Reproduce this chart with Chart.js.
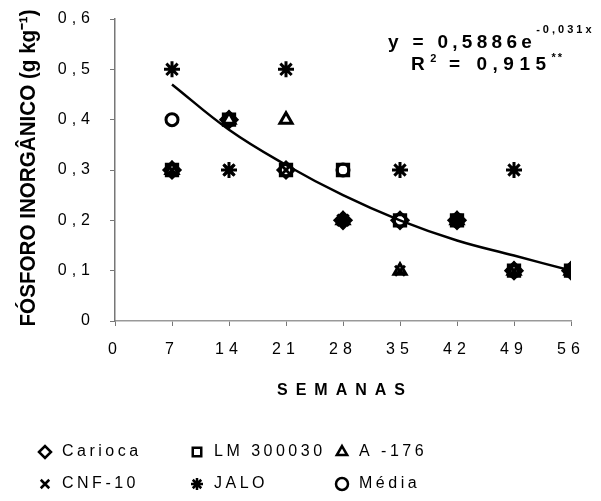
<!DOCTYPE html>
<html>
<head>
<meta charset="utf-8">
<script src="https://cdn.jsdelivr.net/npm/chart.js@4"></script>
<style>
  html, body { margin: 0; padding: 0; background: #fff; }
  #wrap { width: 601px; height: 501px; }
</style>
</head>
<body>
<div id="wrap"><canvas id="chart" width="601" height="501"></canvas></div>
<script>
const weeks = [7, 14, 21, 28, 35, 42, 49, 56];
const carioca = [0.3, 0.4, 0.3, 0.2, 0.2, 0.2, 0.1, 0.1];
const lm300030 = [0.3, 0.4, 0.3, 0.3, 0.2, 0.2, 0.1, 0.1];
const a176 = [0.3, 0.4, 0.4, 0.2, 0.1, 0.2, 0.1, 0.1];
const cnf10 = [0.3, 0.3, 0.3, 0.2, 0.1, 0.2, 0.1, 0.1];
const jalo = [0.5, 0.3, 0.5, 0.2, 0.3, 0.2, 0.3, 0.1];
const media = [0.4, 0.4, 0.3, 0.3, 0.2, 0.2, 0.1, 0.1];
// trend line
const trend = [0.47, 0.38, 0.31, 0.25, 0.20, 0.16, 0.13, 0.10];

const yTicks = [0, 0.1, 0.2, 0.3, 0.4, 0.5, 0.6];
const xTicks = [0, 7, 14, 21, 28, 35, 42, 49, 56];

const FONT = "'Liberation Sans', Arial, sans-serif";

function pts(values) {
    return weeks.map((w, i) => ({ x: w, y: values[i] }));
}

function markerSet(label, values, style, radius) {
    return {
        label: label,
        data: pts(values),
        showLine: false,
        pointStyle: style,
        pointRadius: radius,
        borderColor: '#000',
        backgroundColor: 'rgba(0,0,0,0)',
        borderWidth: 3
    };
}

const datasets = [
    markerSet('Carioca', carioca, 'rectRot', 8),
    markerSet('LM 300030', lm300030, 'rect', 8),
    markerSet('A -176', a176, 'triangle', 7),
    markerSet('CNF-10', cnf10, 'crossRot', 7),
    markerSet('JALO', jalo, 'star', 8),
    markerSet('Média', media, 'circle', 6),
    {
        label: 'trend',
        data: pts(trend),
        showLine: true,
        pointRadius: 0,
        borderColor: '#000',
        borderWidth: 2.5,
        tension: 0.4,
        fill: false
    }
];

// write a run of [text, font, dy, spacing] pieces one after the other
function runText(ctx, x, y, pieces) {
    pieces.forEach(([txt, font, dy, sp]) => {
        ctx.font = font;
        ctx.letterSpacing = sp;
        ctx.fillText(txt, x, y + dy);
        x += ctx.measureText(txt).width;
    });
}

// legend, axis titles and equation drawn by hand like the original
const textPlugin = {
    id: 'texts',
    afterDraw(chart) {
        const ctx = chart.ctx;
        const cols = [45, 197, 342];
        const rows = [452, 484];
        const names = ['Carioca', 'LM 300030', 'A -176', 'CNF-10', 'JALO', 'Média'];
        const styles = ['rectRot', 'rect', 'triangle', 'crossRot', 'star', 'circle'];
        ctx.save();
        ctx.textAlign = 'left';
        ctx.textBaseline = 'middle';
        names.forEach((name, i) => {
            const x = cols[i % 3];
            const y = rows[Math.floor(i / 3)];
            ctx.strokeStyle = '#000';
            ctx.fillStyle = '#fff';
            ctx.lineWidth = 2.5;
            Chart.helpers.drawPoint(ctx, { pointStyle: styles[i], radius: 6, borderWidth: 2.5 }, x, y);
            ctx.fillStyle = '#000';
            ctx.font = '16px ' + FONT;
            ctx.letterSpacing = '3.5px';
            ctx.fillText(name, x + 17, y);
        });

        // equation
        const big = 'bold 19px ' + FONT;
        const small = 'bold 11px ' + FONT;
        ctx.textBaseline = 'alphabetic';
        runText(ctx, 388, 48, [['y = 0,5886e', big, 0, '4.3px'], ['-0,031x', small, -15, '3px']]);
        runText(ctx, 411, 70, [['R', big, 0, '5.5px'], ['2', small, -8, '2px'], [' = 0,915', big, 0, '5.5px'], ['**', small, -9, '2px']]);

        // x title
        ctx.font = 'bold 16px ' + FONT;
        ctx.letterSpacing = '8px';
        ctx.fillText('SEMANAS', 277, 395);

        // y title, condensed to fit its length
        const yTitle = 'FÓSFORO INORGÂNICO (g kg⁻¹)';
        ctx.font = 'bold 22px ' + FONT;
        ctx.letterSpacing = '0px';
        const w = ctx.measureText(yTitle).width;
        ctx.translate(35, 168);
        ctx.rotate(-Math.PI / 2);
        ctx.scale(317 / w, 1);
        ctx.textAlign = 'center';
        ctx.fillText(yTitle, 0, 0);
        ctx.restore();
    }
};

const spacingPlugin = {
    id: 'spacing',
    beforeDraw(chart) {
        chart.ctx.letterSpacing = '5px';
    }
};

new Chart(document.getElementById('chart').getContext('2d'), {
    type: 'scatter',
    data: { datasets: datasets },
    plugins: [spacingPlugin, textPlugin],
    options: {
        responsive: false,
        animation: false,
        layout: { padding: { left: 0, right: 30, top: 19, bottom: 0 } },
        plugins: {
            legend: { display: false },
            tooltip: { enabled: false }
        },
        scales: {
            x: {
                type: 'linear',
                min: 0,
                max: 56,
                afterBuildTicks: (axis) => { axis.ticks = xTicks.map(v => ({ value: v })); },
                afterFit: (axis) => { axis.height = 180; axis.paddingLeft = 0; axis.paddingRight = 0; },
                grid: { drawOnChartArea: false, color: '#777', tickLength: 5 },
                border: { color: '#999', width: 1.5 },
                ticks: { color: '#000', font: { family: FONT, size: 16 }, padding: 14, maxRotation: 0 }
            },
            y: {
                min: 0,
                max: 0.6,
                afterBuildTicks: (axis) => { axis.ticks = yTicks.map(v => ({ value: v })); },
                afterFit: (axis) => { axis.width = 115; axis.paddingTop = 0; axis.paddingBottom = 0; },
                grid: { drawOnChartArea: false, color: '#777', tickLength: 5 },
                border: { color: '#777', width: 1.5 },
                ticks: {
                    color: '#000',
                    font: { family: FONT, size: 16 },
                    padding: 15,
                    callback: (v) => v === 0 ? '0' : v.toFixed(1).replace('.', ',')
                }
            }
        }
    }
});
</script>
</body>
</html>
